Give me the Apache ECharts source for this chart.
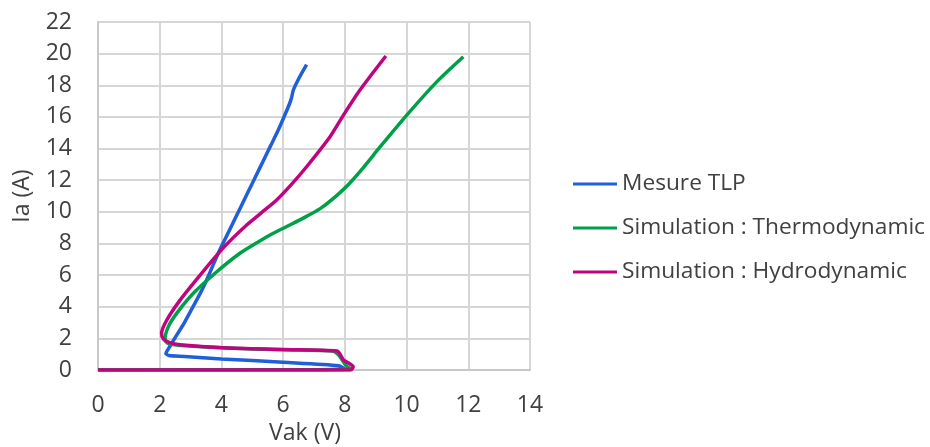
<!DOCTYPE html>
<html>
<head>
<meta charset="utf-8">
<script src="https://cdn.jsdelivr.net/npm/echarts@6/dist/echarts.min.js"></script>
<style>
html,body{margin:0;padding:0;background:#fff;}
#chart{width:930px;height:447px;}
</style>
</head>
<body>
<div id="chart"></div>
<script>
// Series names
const seriesNames = ['Mesure TLP', 'Simulation : Thermodynamic', 'Simulation : Hydrodynamic'];

// Mesure TLP: [Vak (V), Ia (A)]
const mesureTLP = [
  [0, 0], [7.0, 0.02], [8.0, 0.05], [7.8, 0.27], [6.0, 0.49], [4.0, 0.70],
  [2.8, 0.86], [2.3, 0.92], [2.2, 1.05], [2.3, 1.4], [2.55, 2.2], [2.8, 3.0],
  [3.05, 3.9], [3.3, 4.8], [3.5, 5.6], [3.7, 6.5], [3.9, 7.4], [4.1, 8.2],
  [4.35, 9.2], [4.6, 10.2], [4.85, 11.2], [5.1, 12.2], [5.35, 13.2],
  [5.6, 14.2], [5.85, 15.2], [6.05, 16.1], [6.2, 16.8], [6.27, 17.2],
  [6.33, 17.7], [6.5, 18.4], [6.76, 19.3]
];

// Simulation : Thermodynamic
const thermo = [
  [0, 0], [8.1, 0], [8.2, 0.05], [8.05, 0.25], [7.8, 0.95], [7.6, 1.2],
  [6.0, 1.28], [4.0, 1.4], [2.7, 1.55], [2.3, 1.65], [2.17, 1.9],
  [2.28, 2.74], [2.55, 3.58], [3.09, 4.85], [3.85, 6.21], [4.6, 7.38],
  [5.15, 8.05], [5.68, 8.64], [6.2, 9.15], [6.7, 9.65], [7.2, 10.2],
  [7.6, 10.8], [8.1, 11.7], [8.6, 12.8], [9.14, 14.1], [10.0, 16.1],
  [10.97, 18.2], [11.84, 19.8]
];

// Simulation : Hydrodynamic
const hydro = [
  [0, 0], [8.2, 0.02], [8.27, 0.2], [7.95, 0.65], [7.75, 1.2], [6.0, 1.3],
  [4.06, 1.41], [2.66, 1.6], [2.33, 1.73], [2.12, 1.95], [2.06, 2.32],
  [2.23, 3.16], [2.66, 4.42], [3.31, 6.0], [4.0, 7.59], [4.4, 8.4],
  [4.82, 9.17], [5.3, 9.95], [5.79, 10.75], [6.3, 11.8], [6.76, 12.85],
  [7.52, 14.75], [7.95, 16.1], [8.49, 17.7], [9.33, 19.85]
];

const colors = ['#1F5FD9', '#00A047', '#C0047E'];
const FONT = 'Open Sans';
const TXT = '#404040';

const chart = echarts.init(document.getElementById('chart'), null, {renderer: 'canvas'});
chart.setOption({
  animation: false,
  backgroundColor: '#fff',
  textStyle: {fontFamily: FONT},
  grid: {left: 98, right: 400, top: 22, bottom: 77, containLabel: false, outerBoundsMode: 'none'},
  legend: {
    orient: 'vertical',
    left: 568,
    top: 167,
    itemWidth: 44,
    itemHeight: 3,
    itemGap: 20,
    icon: 'rect',
    textStyle: {fontFamily: FONT, fontSize: 22.7, color: TXT, lineHeight: 24},
    data: seriesNames
  },
  xAxis: {
    type: 'value', min: 0, max: 14, interval: 2,
    name: 'Vak (V)', nameLocation: 'middle', nameGap: 49,
    nameTextStyle: {fontFamily: FONT, fontSize: 23, color: TXT, padding: [0, 18, 0, 0]},
    axisLine: {show: true, onZero: false, lineStyle: {color: '#c8c8c8', width: 2}},
    axisTick: {show: false},
    axisLabel: {fontFamily: FONT, fontSize: 23, color: TXT, margin: 24},
    splitLine: {show: true, lineStyle: {color: '#d6d6d6', width: 2}}
  },
  yAxis: {
    type: 'value', min: 0, max: 22, interval: 2,
    name: 'Ia (A)', nameLocation: 'middle', nameGap: 64,
    nameTextStyle: {fontFamily: FONT, fontSize: 23, color: TXT},
    axisLine: {show: true, lineStyle: {color: '#c8c8c8', width: 2}},
    axisTick: {show: false},
    axisLabel: {fontFamily: FONT, fontSize: 23, color: TXT, margin: 26},
    splitLine: {show: true, lineStyle: {color: '#d6d6d6', width: 2}}
  },
  series: [
    {name: seriesNames[0], type: 'line', data: mesureTLP, showSymbol: false, smooth: 0.25,
     lineStyle: {color: colors[0], width: 3.5}, itemStyle: {color: colors[0]}, z: 3},
    {name: seriesNames[1], type: 'line', data: thermo, showSymbol: false, smooth: 0.25,
     lineStyle: {color: colors[1], width: 3.5}, itemStyle: {color: colors[1]}, z: 4},
    {name: seriesNames[2], type: 'line', data: hydro, showSymbol: false, smooth: 0.25,
     lineStyle: {color: colors[2], width: 3.5}, itemStyle: {color: colors[2]}, z: 5}
  ]
});
</script>
</body>
</html>
